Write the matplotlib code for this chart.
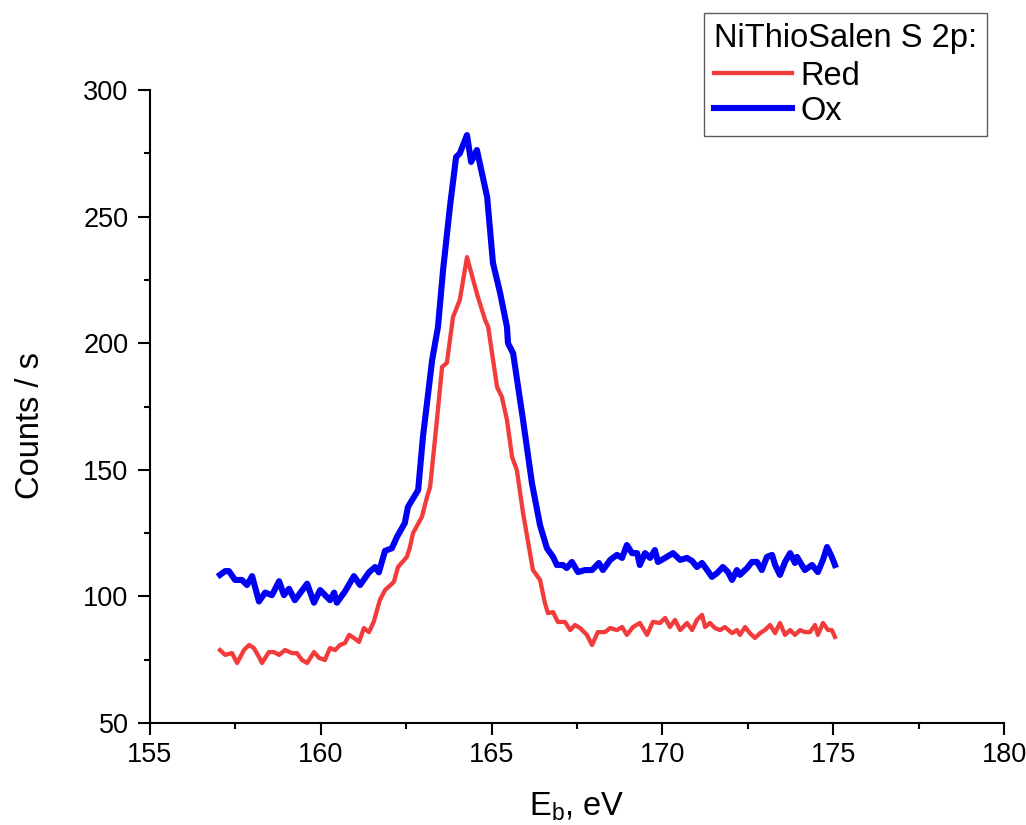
import matplotlib
matplotlib.use("Agg")
import matplotlib.pyplot as plt
from matplotlib.ticker import MultipleLocator

plt.rcParams['font.family'] = ['Liberation Sans', 'DejaVu Sans']
plt.rcParams['mathtext.fontset'] = 'custom'
plt.rcParams['mathtext.rm'] = 'Liberation Sans'
plt.rcParams['mathtext.it'] = 'Liberation Sans:italic'

# ---- data ----
ox_x = [157.05, 157.2, 157.31, 157.49, 157.69, 157.84, 157.99, 158.19, 158.37, 158.57,
        158.78, 158.92, 159.07, 159.24, 159.6, 159.8, 159.98, 160.27, 160.39, 160.47,
        160.71, 160.97, 161.15, 161.41, 161.59, 161.7, 161.88, 162.08, 162.23, 162.46,
        162.55, 162.85, 162.99, 163.26, 163.43, 163.58, 163.78, 163.96, 164.07, 164.28,
        164.4, 164.57, 164.87, 165.04, 165.25, 165.45, 165.48, 165.63, 165.92, 166.18,
        166.42, 166.62, 166.8, 166.91, 167.09, 167.2, 167.35, 167.53, 167.73, 167.94,
        168.14, 168.26, 168.47, 168.67, 168.82, 168.96, 169.11, 169.26, 169.34, 169.49,
        169.64, 169.78, 169.87, 170.08, 170.31, 170.52, 170.72, 170.87, 171.01, 171.16,
        171.31, 171.45, 171.6, 171.77, 171.92, 172.04, 172.18, 172.27, 172.48, 172.62,
        172.77, 172.91, 173.06, 173.21, 173.3, 173.44, 173.59, 173.74, 173.88, 173.94,
        174.17, 174.38, 174.55, 174.7, 174.82, 174.96, 175.05]
ox_y = [108.5, 110, 110, 106.5, 106.5, 104.5, 108, 98, 101.5, 100.5,
        106, 100.5, 103, 98.5, 105, 97.5, 102.5, 98.5, 101.5, 97.5,
        102, 108, 104.5, 109.5, 111.6, 109.5, 118, 119, 123.5, 129,
        135.3, 142, 163, 193.4, 206.4, 229, 253.8, 273.5, 275, 282.2,
        271.6, 276.3, 257.7, 231.7, 219.8, 206.4, 200, 196, 169.7, 144.8,
        128, 119, 115.6, 112.4, 112.4, 111.2, 113.6, 109.6, 110.4, 110.4,
        113.2, 110.4, 114.4, 116.4, 115.2, 120.3, 117.1, 117.1, 112.4, 117.1,
        115.2, 118.3, 113.6, 115.2, 117.1, 114.4, 115.2, 114, 111.6, 113.2,
        110.4, 107.7, 109.2, 111.6, 109.6, 106.5, 110.4, 108.5, 111.2, 113.6,
        113.6, 110.4, 115.6, 116.4, 112.4, 108.5, 113.6, 117.1, 113.2, 115.6,
        110.4, 112.4, 109.6, 114.4, 119.5, 115.6, 112.4]

red_x = [157.05, 157.2, 157.4, 157.55, 157.75, 157.9, 158.04, 158.19, 158.28, 158.48,
         158.63, 158.78, 158.95, 159.16, 159.3, 159.45, 159.6, 159.8, 159.95, 160.12,
         160.27, 160.42, 160.56, 160.71, 160.83, 160.97, 161.12, 161.26, 161.41, 161.55,
         161.73, 161.88, 162.14, 162.26, 162.52, 162.61, 162.7, 162.96, 163.11, 163.2,
         163.4, 163.55, 163.69, 163.87, 164.07, 164.28, 164.46, 164.6, 164.81, 164.9,
         165.16, 165.3, 165.45, 165.6, 165.74, 165.92, 166.21, 166.42, 166.56, 166.65,
         166.8, 166.94, 167.15, 167.3, 167.44, 167.59, 167.79, 167.94, 168.11, 168.32,
         168.47, 168.67, 168.82, 168.96, 169.14, 169.34, 169.55, 169.72, 169.93, 170.08,
         170.22, 170.37, 170.52, 170.72, 170.87, 171.01, 171.16, 171.25, 171.39, 171.54,
         171.69, 171.83, 172.04, 172.18, 172.27, 172.42, 172.56, 172.71, 172.86, 173.0,
         173.15, 173.3, 173.44, 173.59, 173.74, 173.88, 174.03, 174.17, 174.32, 174.47,
         174.55, 174.7, 174.85, 174.96, 175.05]
red_y = [78.8, 76.9, 77.6, 73.7, 78.8, 80.8, 79.6, 76.1, 73.7, 78.0,
         78.0, 76.9, 78.8, 77.6, 77.6, 74.9, 73.7, 78.0, 75.7, 74.9,
         79.6, 78.8, 80.8, 81.6, 84.8, 83.6, 82.0, 87.5, 85.9, 90.0,
         98.6, 102.5, 105.7, 111.6, 115.6, 119.5, 125, 131.4, 139.3, 143.2,
         169.7, 190.6, 192.2, 210.3, 217.1, 234, 225, 218.2, 209.2, 206.4,
         182.7, 178.8, 169.7, 155, 149.9, 133, 110.4, 106.5, 97.4, 93.4,
         93.8, 89.9, 89.9, 86.7, 88.7, 87.5, 84.8, 80.8, 85.9, 85.9,
         87.5, 86.7, 87.9, 84.8, 87.9, 89.5, 84.8, 89.9, 89.5, 91.5,
         87.9, 90.7, 86.7, 89.5, 86.7, 90.7, 92.7, 87.9, 89.5, 87.5,
         86.7, 87.9, 85.5, 86.7, 84.8, 87.9, 85.5, 83.6, 85.5, 86.7,
         88.7, 85.5, 89.5, 84.8, 86.7, 84.8, 86.7, 85.9, 85.9, 88.7,
         84.8, 89.5, 86.7, 86.7, 84.0]

series_labels = ['Red', 'Ox']
legend_title = 'NiThioSalen S 2p:'

# ---- figure ----
fig = plt.figure(figsize=(10.26, 8.25), dpi=100)
ax = fig.add_axes([150/1026, 1 - 723/825, 854/1026, 633/825])

ax.plot(red_x, red_y, color='#F23B3B', lw=3.1, label=series_labels[0], solid_joinstyle='round')
ax.plot(ox_x, ox_y, color='#0000F5', lw=4.4, label=series_labels[1], solid_joinstyle='round')

ax.set_xlim(155, 180)
ax.set_ylim(50, 300)
ax.xaxis.set_major_locator(MultipleLocator(5))
ax.xaxis.set_minor_locator(MultipleLocator(2.5))
ax.yaxis.set_major_locator(MultipleLocator(50))
ax.yaxis.set_minor_locator(MultipleLocator(25))

for s in ['top', 'right']:
    ax.spines[s].set_visible(False)
for s in ['left', 'bottom']:
    ax.spines[s].set_linewidth(1.5)
    ax.spines[s].set_color('black')

ax.tick_params(which='major', direction='out', length=8.5, width=1.5, labelsize=19.5, pad=5)
ax.tick_params(which='minor', direction='out', length=4.5, width=1.5)
ax.tick_params(axis='y', which='major', pad=7)

ax.set_xlabel(r'E$_\mathregular{b}$, eV', fontsize=23.5)
ax.set_ylabel('Counts / s', fontsize=23.5)
ax.xaxis.set_label_coords(0.5, -0.107)
ax.yaxis.set_label_coords(-0.122, 0.47)

leg = ax.legend(title=legend_title, loc='upper right',
                bbox_to_anchor=(987/1026, 1 - 13/825), bbox_transform=fig.transFigure,
                fontsize=23.5, title_fontsize=23.5, frameon=True, fancybox=False,
                edgecolor='#333333', borderaxespad=0, borderpad=0.3,
                handlelength=2.4, handletextpad=0.25, labelspacing=0.12,
                alignment='left')
leg.get_frame().set_linewidth(1.0)
leg._legend_box.sep = 5

fig.savefig('out.png', dpi=100)
